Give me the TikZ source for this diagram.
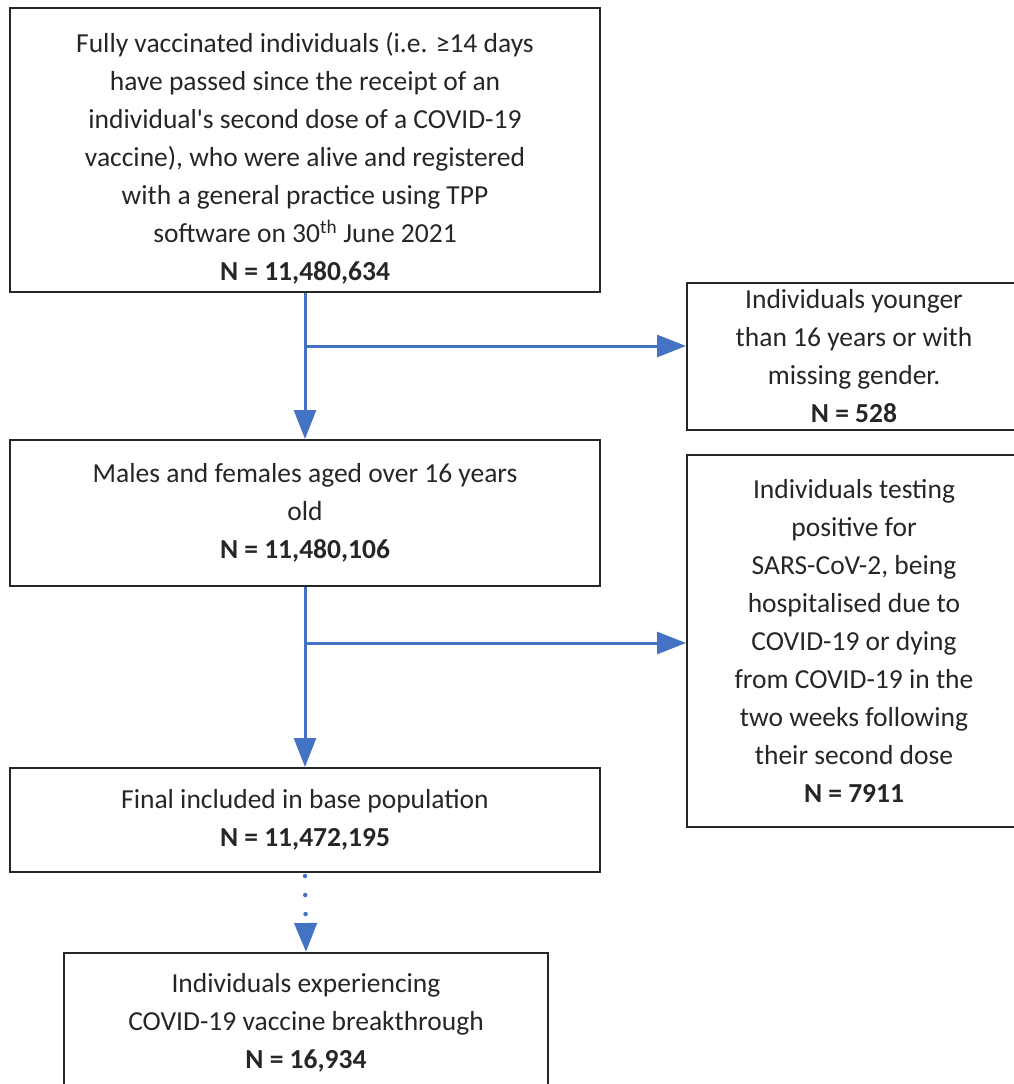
\documentclass[tikz,border=0pt]{standalone}
\usepackage{fontspec}
\setmainfont{Carlito}
\usetikzlibrary{arrows.meta}
\definecolor{flowblue}{HTML}{4472C4}
\tikzset{
  box/.style={draw=black!85, line width=2pt, align=center, inner sep=0pt,
    text=black!85, font=\fontsize{27.5}{38}\selectfont},
  flow/.style={draw=flowblue, line width=3pt, -{Triangle[width=22pt,length=29pt,fill=flowblue]}},
  dotflow/.style={flow, line width=4.5pt, line cap=round, dash pattern=on 0pt off 19pt, dash phase=16pt},
}
\begin{document}
\begin{tikzpicture}[x=1pt,y=-1pt]
\clip (0,0) rectangle (1014,1084);
\node[box, minimum width=590pt, minimum height=284pt] (full) at (305,150)
  {\rule{0pt}{36pt}Fully vaccinated individuals (i.e. ≥14 days\\have passed since the receipt of an\\individual\textquotesingle s second dose of a COVID-19\\vaccine), who were alive and registered\\with a general practice using TPP\\software on 30\textsuperscript{th} June 2021\\\textbf{N = 11,480,634}};
\node[box, minimum width=334pt, minimum height=147pt] (young) at (854,356.5)
  {Individuals younger\\than 16 years or with\\missing gender.\\\textbf{N = 528}};
\node[box, minimum width=590pt, minimum height=146pt] (adult) at (305,513)
  {Males and females aged over 16 years\\old\\\textbf{N = 11,480,106}};
\node[box, minimum width=334pt, minimum height=372pt] (excl) at (854,641)
  {Individuals testing\\positive for\\SARS-CoV-2, being\\hospitalised due to\\COVID-19 or dying\\from COVID-19 in the\\two weeks following\\their second dose\\\textbf{N = 7911}};
\node[box, minimum width=590pt, minimum height=104pt] (base) at (305,820)
  {Final included in base population\\\textbf{N = 11,472,195}};
\node[box, minimum width=484pt, minimum height=140pt] (brk) at (306,1023)
  {Individuals experiencing\\COVID-19 vaccine breakthrough\\\textbf{N = 16,934}};
% arrows
\path (full.south) ++(0,53) coordinate (split1);
\path (adult.south) ++(0,56) coordinate (split2);
\draw[flow] (full.south) -- (adult.north);
\draw[flow] (split1) -- (split1 -| young.west);
\draw[flow] (adult.south) -- (base.north);
\draw[flow] (split2) -- (split2 -| excl.west);
\draw[dotflow] (base.south) -- (brk.north);
\end{tikzpicture}
\end{document}
